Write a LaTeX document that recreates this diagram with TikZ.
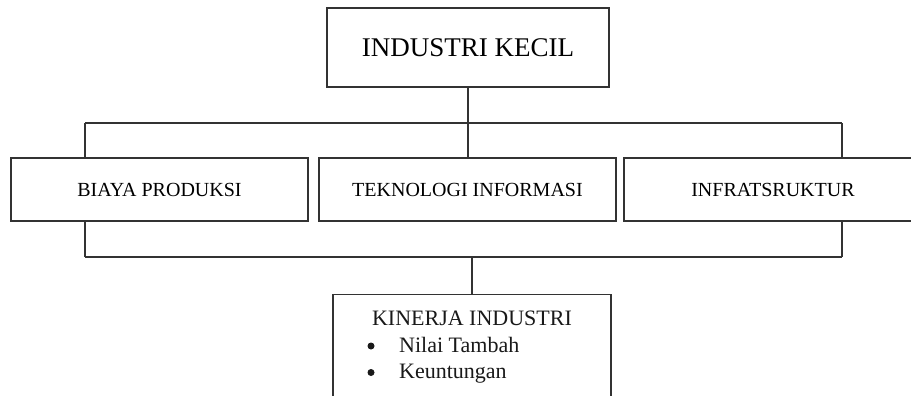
\documentclass[tikz,border=0pt]{standalone}
\usepackage{fontspec}
\setmainfont{Liberation Serif}
\begin{document}
\begin{tikzpicture}[x=1pt,y=-1pt,
  ln/.style={line width=1.3pt,draw=black!80},
  boxnode/.style={ln,rectangle,inner sep=0pt,fill=white},
  txt/.style={inner sep=0pt,text=black!90},
  dot/.style={circle,fill=black!90,inner sep=0pt,minimum size=7pt}]
\useasboundingbox (0,0) rectangle (911,396);
\fill[white] (0,0) rectangle (911,396);
% coordinates of connector junctions
\coordinate (tl) at (85,123);
\coordinate (tr) at (842,123);
\coordinate (tm) at (468,123);
\coordinate (bl) at (85,257);
\coordinate (br) at (842,257);
\coordinate (bm) at (472,257);
% boxes
\node[boxnode,minimum width=282pt,minimum height=79pt,font=\fontsize{27}{32}\selectfont] (top) at (468,47.5) {INDUSTRI KECIL};
\node[boxnode,minimum width=297pt,minimum height=63pt,font=\fontsize{20}{24}\selectfont] (biaya) at (159.5,189.5) {BIAYA PRODUKSI};
\node[boxnode,minimum width=297pt,minimum height=63pt,font=\fontsize{20}{24}\selectfont] (tek) at (467.5,189.5) {TEKNOLOGI INFORMASI};
\node[boxnode,minimum width=298pt,minimum height=63pt,font=\fontsize{20}{24}\selectfont] (infra) at (773,189.5) {INFRATSRUKTUR};
\node[boxnode,anchor=north,minimum width=278pt,minimum height=120pt] (kin) at (472,294) {};
% texts in bottom box
\node[txt,anchor=base,font=\fontsize{22}{26}\selectfont] (kintitle) at (472,325) {KINERJA INDUSTRI};
\node[dot] (b1) at (371,346) {};
\node[txt,anchor=base west,font=\fontsize{22}{26}\selectfont] (i1) at (399,352) {Nilai Tambah};
\node[dot] (b2) at (371,372.5) {};
\node[txt,anchor=base west,font=\fontsize{22}{26}\selectfont] (i2) at (399,378) {Keuntungan};
% connectors
\draw[ln] (top.south) -- (tm);
\draw[ln] (tl) -- (tr);
\draw[ln] (tl) -- (tl |- biaya.north);
\draw[ln] (tm) -- (tm |- tek.north);
\draw[ln] (tr) -- (tr |- infra.north);
\draw[ln] (bl) -- (bl |- biaya.south);
\draw[ln] (br) -- (br |- infra.south);
\draw[ln] (bl) -- (br);
\draw[ln] (bm) -- (kin.north);
\end{tikzpicture}
\end{document}
